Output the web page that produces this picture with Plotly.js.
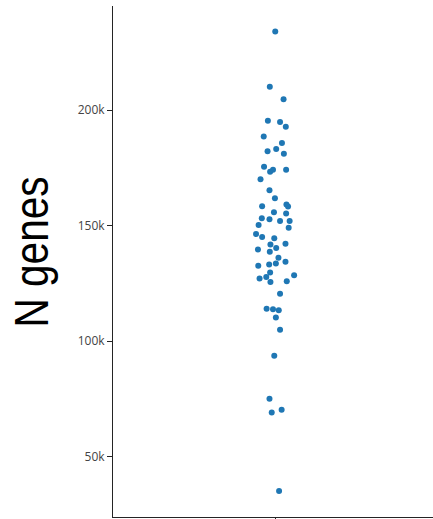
<!DOCTYPE html>
<html>
<head>
<meta charset="utf-8">
<script src="https://cdn.plot.ly/plotly-3.0.1.min.js"></script>
<style>
  html, body { margin: 0; padding: 0; background: #fff; }
  #chart { width: 433px; height: 519px; }
</style>
</head>
<body>
<div id="chart"></div>
<script>
// Number of genes per sample
const nGenes = [
  234000, 210100, 204600, 195400, 194800, 192800, 188500, 185700, 183100, 182100,
  181100, 175400, 174100, 173300, 174100, 170000, 165300, 161800, 158400, 159100,
  158200, 155800, 155200, 153200, 152700, 152000, 152000, 150200, 149100, 146300,
  145000, 144500, 141800, 142100, 140300, 139600, 138700, 136100, 133600, 133100,
  134300, 132600, 129700, 128500, 127700, 127100, 125600, 125900, 120500, 114000,
  113800, 113400, 110200, 104900, 93700, 75100, 70300, 69100, 35200
];

// Horizontal strip jitter for each sample (category centre = 0)
const jitter = [
  -0.002, -0.019, 0.024, -0.025, 0.013, 0.031, -0.038, 0.019, 0.001, -0.026,
  0.025, -0.037, -0.009, -0.018, 0.032, -0.048, -0.020, -0.003, -0.043, 0.033,
  0.038, -0.006, 0.032, -0.044, -0.020, 0.013, 0.043, -0.054, 0.040, -0.062,
  -0.043, -0.005, -0.017, 0.030, 0.001, -0.056, -0.019, 0.008, 0.000, -0.021,
  0.030, -0.055, -0.018, 0.057, -0.030, -0.051, -0.017, 0.034, 0.013, -0.029,
  -0.009, 0.009, 0.000, 0.013, -0.005, -0.020, 0.018, -0.013, 0.010
];

const yTicks = [50000, 100000, 150000, 200000];
const yTickText = ['50k', '100k', '150k', '200k'];

const axisColor = 'rgb(36,36,36)';

const trace = {
  type: 'scatter',
  mode: 'markers',
  x: jitter,
  y: nGenes,
  marker: { color: '#1f77b4', size: 6 },
  hoverinfo: 'y',
  showlegend: false
};

const layout = {
  width: 433,
  height: 519,
  margin: { l: 113, r: 0, t: 6, b: 2 },
  paper_bgcolor: '#fff',
  plot_bgcolor: '#fff',
  font: { family: '"Open Sans", verdana, arial, sans-serif', size: 12, color: '#444' },
  xaxis: {
    range: [-0.509, 0.491],
    showgrid: false,
    zeroline: false,
    showline: true,
    linecolor: axisColor,
    linewidth: 1,
    ticks: 'outside',
    tickcolor: axisColor,
    ticklen: 5,
    tickvals: [0],
    ticktext: [''],
    automargin: false
  },
  yaxis: {
    range: [23900, 245000],
    showgrid: false,
    zeroline: false,
    showline: true,
    linecolor: axisColor,
    linewidth: 1,
    ticks: 'outside',
    tickcolor: axisColor,
    ticklen: 5,
    tickvals: yTicks,
    ticktext: yTickText,
    automargin: false,
    title: {
      text: 'N genes',
      font: { family: '"Liberation Sans", Arial, sans-serif', size: 48, color: '#000' }
    }
  }
};

// Narrow the axis title along its reading direction and place it
// at the left edge, centred at y = 252.
function condenseTitle() {
  const t = document.querySelector('#chart .ytitle');
  if (!t) return;
  const x = 12, y = 252, squeeze = 0.845;
  t.setAttribute('x', x);
  t.setAttribute('y', y);
  t.querySelectorAll('tspan').forEach(s => { s.setAttribute('x', x); });
  t.setAttribute('transform',
    `rotate(-90,${x},${y}) translate(${x},${y}) scale(${squeeze},1) translate(${-x},${-y})`);
}

Plotly.newPlot('chart', [trace], layout, { displayModeBar: false, staticPlot: true })
  .then(condenseTitle);
</script>
</body>
</html>
